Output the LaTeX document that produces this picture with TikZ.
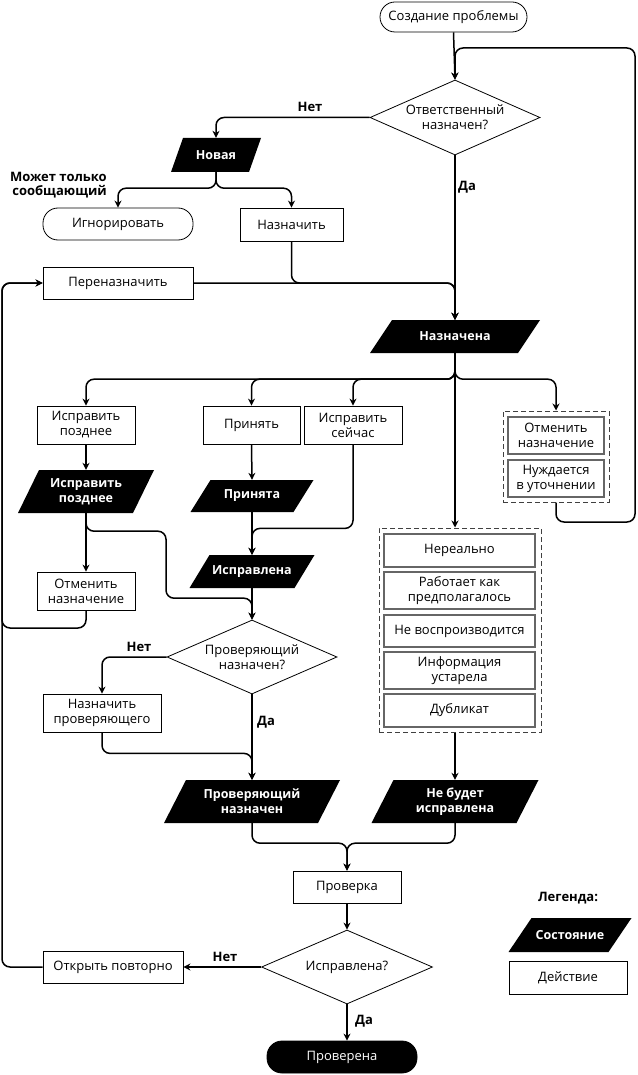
\documentclass[tikz,border=0pt]{standalone}
\usepackage{fontspec}
\setmainfont{Open Sans}
\usetikzlibrary{arrows.meta,shapes.geometric,calc}
\tikzset{
  base/.style={font=\fontsize{13}{15}\selectfont, align=center, inner sep=0pt},
  act/.style={base, draw=black, line width=0.8pt, fill=white},
  sub/.style={base, draw=black!60, line width=1.3pt, fill=white},
  term/.style={base, draw=black, line width=0.8pt, rounded corners=15pt},
  dec/.style={base, diamond, draw=black, line width=0.8pt, aspect=2.3},
  sttext/.style={font=\bfseries\fontsize{12.5}{15}\selectfont, align=center, inner sep=0pt, text=white},
  grp/.style={draw=black!75, line width=1pt, dash pattern=on 5pt off 3pt, inner sep=0pt},
  conn/.style={line width=1.5pt, rounded corners=8pt, -{Stealth[length=7pt,width=7pt]}},
  lab/.style={font=\bfseries\fontsize{13}{14}\selectfont, inner sep=0pt, align=right},
}
% name, x, y, width, height, slant, text
\newcommand\pstate[7]{%
  \fill[black] ({#2-#4/2-#6/2},{#3+#5/2}) -- ({#2+#4/2-#6/2},{#3+#5/2})
     -- ({#2+#4/2+#6/2},{#3-#5/2}) -- ({#2-#4/2+#6/2},{#3-#5/2}) -- cycle;
  \node[sttext, minimum width=#4pt, minimum height=#5pt] (#1) at (#2,#3) {#7};}
\begin{document}
\begin{tikzpicture}[x=1pt,y=-1pt]
\fill[white] (0,0) rectangle (637,1075);
\useasboundingbox (0,0) rectangle (637,1075);

% nodes
\node[term, minimum width=147pt, minimum height=30pt] (start) at (453.5,17) {Создание проблемы};
\node[dec, minimum width=170pt, minimum height=75pt] (d1) at (455,117.5) {Ответственный\\назначен?};
\pstate{new}{216}{155}{78}{34}{12}{Новая}
\node[term, minimum width=150pt, minimum height=32pt] (ignore) at (118,224) {Игнорировать};
\node[act, minimum width=103pt, minimum height=33pt] (assign) at (291.5,224.5) {Назначить};
\node[act, minimum width=150pt, minimum height=32pt] (reassign) at (118,283) {Переназначить};
\pstate{assigned}{455}{336.5}{148}{33}{22}{Назначена}
\node[act, minimum width=98pt, minimum height=38pt] (fixlater) at (86,425) {Исправить\\позднее};
\node[act, minimum width=97pt, minimum height=38pt] (accept) at (251.5,425) {Принять};
\node[act, minimum width=98pt, minimum height=38pt] (fixnow) at (353,425) {Исправить\\сейчас};
\node[grp, minimum width=106pt, minimum height=91pt] (g1) at (556,456.5) {};
\node[sub, minimum width=96pt, minimum height=37pt] (unassign2) at (556,435.5) {Отменить\\назначение};
\node[sub, minimum width=96pt, minimum height=37pt] (clarify) at (556,478.5) {Нуждается\\в уточнении};
\pstate{fixlaterS}{86}{491.5}{115}{43}{21}{Исправить\\позднее}
\pstate{accepted}{252}{496}{103}{32}{20}{Принята}
\pstate{fixed}{252}{571.5}{105}{33}{20}{Исправлена}
\node[act, minimum width=98pt, minimum height=38pt] (unassign) at (86,591) {Отменить\\назначение};
\node[dec, minimum width=170pt, minimum height=74pt] (d2) at (252,657) {Проверяющий\\назначен?};
\node[act, minimum width=118pt, minimum height=38pt] (assignrev) at (102,713) {Назначить\\проверяющего};
\pstate{revassigned}{252}{801.5}{154}{43}{22}{Проверяющий\\назначен}
\node[grp, minimum width=162pt, minimum height=204pt] (g2) at (460,630) {};
\node[sub, minimum width=151pt, minimum height=33pt] (unreal) at (459.5,550.5) {Нереально};
\node[sub, minimum width=151pt, minimum height=37pt] (works) at (459.5,590.5) {Работает как\\предполагалось};
\node[sub, minimum width=151pt, minimum height=32pt] (norepro) at (459.5,631) {Не воспроизводится};
\node[sub, minimum width=151pt, minimum height=37pt] (outdated) at (459.5,670.5) {Информация\\устарела};
\node[sub, minimum width=151pt, minimum height=33pt] (dup) at (459.5,710.5) {Дубликат};
\pstate{wontfix}{455}{801.5}{145}{43}{22}{Не будет\\исправлена}
\node[act, minimum width=108pt, minimum height=32pt] (review) at (347,887) {Проверка};
\node[dec, minimum width=171pt, minimum height=74pt] (d3) at (347,967) {Исправлена?};
\node[act, minimum width=140pt, minimum height=32pt] (reopen) at (113,967) {Открыть повторно};
\node[term, fill=black, text=white, minimum width=150pt, minimum height=32pt] (verified) at (342,1057) {Проверена};

% legend
\node[lab] (legtitle) at (568,898) {Легенда:};
\pstate{legstate}{570}{935}{100}{34}{23}{Состояние}
\node[act, minimum width=118pt, minimum height=33pt] (legact) at (568,977.5) {Действие};

% labels
\node[lab] (l1) at (310,107) {Нет};
\node[lab] (l2) at (467,187) {Да};
\node[lab, anchor=east] (l3) at (107,185) {Может только\\сообщающий};
\node[lab] (l4) at (139,647) {Нет};
\node[lab] (l5) at (266,722) {Да};
\node[lab] (l6) at (225,957) {Нет};
\node[lab] (l7) at (364,1021) {Да};

% connectors
\coordinate (rb) at (635,522);
\coordinate (rt) at (635,48);
\coordinate (lb) at (2,628);
\draw[conn] (start.south) -- (d1.north);
\draw[conn] (g1.south) |- (rb) -- (rt) -| (d1.north);
\draw[conn] (d1.west) -| (new.north);
\draw[conn] (new.south) -- ++(0,16) -| (ignore.north);
\draw[conn] (new.south) -- ++(0,16) -| (assign.north);
\draw[conn] (d1.south) -- (assigned.north);
\draw[conn] (assign.south) |- (reassign.east -| assigned.north) -- (assigned.north);
\draw[conn] (reassign.east) -- (reassign.east -| assigned.north) -- (assigned.north);
\draw[conn] (assigned.south) -- ++(0,26) -| (fixlater.north);
\draw[conn] (assigned.south) -- ++(0,26) -| (accept.north);
\draw[conn] (assigned.south) -- ++(0,26) -| (fixnow.north);
\draw[conn] (assigned.south) -- ++(0,26) -| (g1.north);
\draw[conn] (assigned.south) -- (assigned.south |- g2.north);
\draw[conn] (fixlater.south) -- (fixlaterS.north);
\draw[conn] (accept.south) -- (accepted.north);
\draw[conn] (accepted.south) -- (fixed.north);
\draw[conn] (fixnow.south) -- ++(0,84) -| (fixed.north);
\draw[conn] (fixlaterS.south) -- (unassign.north);
\draw[conn] (fixlaterS.south) -- ++(0,18) -| ++(80,67) -| (d2.north);
\draw[conn] (fixed.south) -- (d2.north);
\draw[conn] (unassign.south) |- (lb) |- (reassign.west);
\draw[conn] (reopen.west) -- (reopen.west -| lb) |- (reassign.west);
\draw[conn] (d2.west) -| (assignrev.north);
\draw[conn] (d2.south) -- (revassigned.north);
\draw[conn] (assignrev.south) -- ++(0,21) -| (revassigned.north);
\draw[conn] (revassigned.south) -- ++(0,20) -| (review.north);
\draw[conn] (wontfix.south) -- ++(0,20) -| (review.north);
\draw[conn] (g2.south -| wontfix.north) -- (wontfix.north);
\draw[conn] (review.south) -- (d3.north);
\draw[conn] (d3.west) -- (reopen.east);
\draw[conn] (d3.south) -- (d3.south |- verified.north);
\end{tikzpicture}
\end{document}
